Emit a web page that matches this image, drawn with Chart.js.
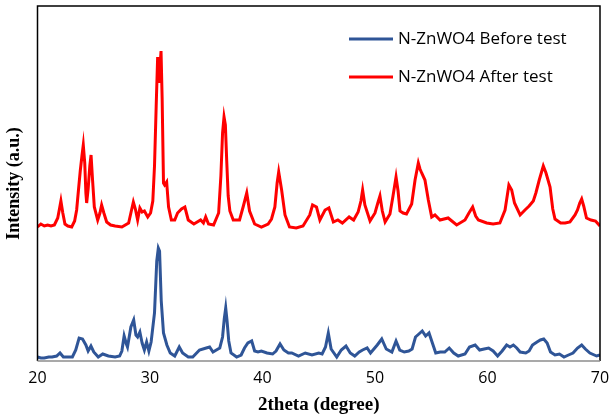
<!DOCTYPE html>
<html>
<head>
<meta charset="utf-8">
<script src="https://cdn.jsdelivr.net/npm/chart.js@4.4.1/dist/chart.umd.min.js"></script>
<style>
  html, body { margin: 0; padding: 0; background: #fff; }
</style>
</head>
<body>
<canvas id="xrd" width="611" height="420"></canvas>
<script>
// 2theta positions and intensities (a.u.)
const beforeTheta = [20.0, 20.3, 20.6, 21.0, 21.3, 21.7, 22.0, 22.3, 22.7, 23.1, 23.4, 23.7, 24.0, 24.3, 24.5, 24.75, 25.0, 25.4, 25.8, 26.3, 26.9, 27.3, 27.5, 27.7, 27.9, 28.0, 28.3, 28.55, 28.75, 28.9, 29.1, 29.3, 29.5, 29.7, 29.9, 30.1, 30.4, 30.6, 30.74, 30.85, 31.0, 31.2, 31.5, 31.8, 32.2, 32.6, 32.9, 33.4, 33.8, 34.4, 35.0, 35.3, 35.6, 35.9, 36.2, 36.45, 36.6, 36.73, 36.85, 37.0, 37.2, 37.7, 38.1, 38.4, 38.7, 39.04, 39.3, 39.6, 39.9, 40.4, 40.9, 41.2, 41.56, 41.9, 42.3, 42.6, 43.2, 43.8, 44.4, 45.0, 45.3, 45.6, 45.85, 46.1, 46.6, 47.0, 47.42, 47.8, 48.2, 48.6, 48.9, 49.3, 49.6, 50.2, 50.6, 51.0, 51.5, 51.87, 52.2, 52.6, 53.0, 53.3, 53.6, 53.9, 54.2, 54.5, 54.8, 55.1, 55.4, 55.8, 56.2, 56.6, 57.0, 57.4, 58.0, 58.4, 58.9, 59.3, 59.7, 60.1, 60.5, 60.9, 61.3, 61.7, 62.0, 62.3, 62.6, 62.9, 63.4, 63.7, 64.0, 64.4, 64.7, 65.0, 65.3, 65.6, 66.0, 66.4, 66.8, 67.2, 67.6, 68.0, 68.37, 68.7, 69.1, 69.7, 70.0];
const beforeIntensity = [4, 3, 3, 4, 4, 5, 8, 4, 4, 4, 11, 23, 22, 16, 10, 15, 9, 4, 7, 5, 4, 5, 10, 25, 17, 14, 34, 41, 26, 24, 29, 18, 11, 19, 10, 19, 48, 100, 113, 110, 60, 28, 16, 8, 5, 14, 8, 4, 4, 11, 13, 14, 9, 11, 13, 24, 42, 53, 40, 20, 8, 4, 6, 13, 18, 20, 10, 9, 10, 8, 7, 10, 17, 11, 8, 8, 5, 8, 6, 8, 7, 14, 28, 12, 4, 11, 15, 8, 5, 9, 11, 13, 8, 16, 22, 12, 9, 20, 11, 9, 10, 12, 24, 27, 30, 25, 28, 18, 8, 9, 9, 13, 8, 5, 7, 14, 16, 11, 12, 13, 10, 5, 10, 16, 14, 16, 13, 9, 8, 10, 16, 19, 21, 22, 18, 9, 6, 7, 4, 6, 8, 13, 16, 12, 8, 5, 6];

const afterTheta = [20.0, 20.3, 20.6, 20.9, 21.2, 21.5, 21.8, 21.95, 22.08, 22.25, 22.44, 22.7, 23.04, 23.3, 23.48, 23.65, 23.8, 23.95, 24.07, 24.2, 24.3, 24.37, 24.5, 24.65, 24.76, 24.9, 25.05, 25.35, 25.55, 25.7, 25.9, 26.15, 26.5, 26.9, 27.5, 28.1, 28.3, 28.52, 28.7, 28.9, 29.1, 29.3, 29.5, 29.8, 30.05, 30.25, 30.4, 30.55, 30.68, 30.8, 30.98, 31.08, 31.2, 31.3, 31.48, 31.65, 31.9, 32.2, 32.45, 32.8, 33.1, 33.4, 33.9, 34.5, 34.75, 34.95, 35.2, 35.65, 36.1, 36.3, 36.45, 36.58, 36.7, 36.82, 36.95, 37.1, 37.4, 37.96, 38.3, 38.6, 38.85, 39.3, 39.9, 40.5, 40.8, 41.1, 41.3, 41.44, 41.7, 42.0, 42.4, 43.0, 43.6, 44.2, 44.45, 44.8, 45.1, 45.56, 45.9, 46.3, 46.7, 47.1, 47.7, 48.1, 48.5, 48.75, 48.9, 49.1, 49.56, 50.0, 50.25, 50.44, 50.65, 50.9, 51.33, 51.6, 51.87, 52.05, 52.22, 52.5, 52.8, 53.26, 53.56, 53.85, 54.0, 54.15, 54.44, 54.74, 55.04, 55.33, 55.78, 56.5, 57.26, 58.0, 58.35, 58.68, 58.95, 59.19, 59.93, 60.5, 61.1, 61.56, 61.9, 62.15, 62.4, 62.9, 63.33, 63.7, 64.07, 64.3, 64.6, 64.96, 65.2, 65.56, 65.8, 66.0, 66.5, 66.9, 67.33, 67.78, 68.0, 68.2, 68.37, 68.55, 68.8, 69.2, 69.6, 70.0];
const afterIntensity = [134, 137, 135, 136, 135, 136, 143, 152, 160, 148, 137, 135, 134, 140, 151, 172, 190, 205, 216, 198, 168, 158, 172, 195, 206, 180, 154, 141, 148, 156, 148, 139, 136, 135, 134, 138, 148, 159, 152, 141, 153, 149, 150, 144, 148, 160, 195, 255, 304, 278, 310, 262, 178, 176, 179, 154, 141, 141, 148, 152, 154, 141, 137, 141, 138, 144, 137, 136, 148, 185, 228, 244, 236, 200, 165, 150, 141, 141, 155, 168, 150, 137, 134, 137, 142, 154, 178, 189, 171, 146, 134, 133, 135, 146, 156, 154, 141, 151, 153, 139, 141, 138, 144, 141, 149, 160, 171, 156, 140, 148, 158, 165, 150, 139, 147, 165, 184, 170, 150, 148, 147, 157, 181, 198, 192, 188, 181, 161, 144, 146, 141, 143, 136, 141, 148, 154, 145, 141, 138, 137, 138, 151, 176, 171, 158, 146, 151, 155, 160, 168, 181, 195, 188, 174, 152, 142, 138, 138, 139, 146, 151, 158, 162, 155, 143, 141, 140, 135];

const xTicks = [20, 30, 40, 50, 60, 70];

const toPoints = (xs, ys) => xs.map((x, i) => ({ x: x, y: ys[i] }));

// box round the plot + legend sitting inside it, top right
const framePlugin = {
    id: 'frame',
    afterDraw(chart) {
        const { ctx, chartArea: a } = chart;
        ctx.save();
        ctx.strokeStyle = '#000';
        ctx.lineWidth = 1.5;
        ctx.beginPath();
        ctx.moveTo(a.left, a.bottom);
        ctx.lineTo(a.left, a.top);
        ctx.lineTo(a.right, a.top);
        ctx.lineTo(a.right, a.bottom);
        ctx.stroke();
        ctx.strokeStyle = '#8c8c8c';
        ctx.beginPath();
        ctx.moveTo(a.left, a.bottom);
        ctx.lineTo(a.right, a.bottom);
        ctx.stroke();

        const rows = [39, 77];
        ctx.font = '17px "Open Sans"';
        ctx.textBaseline = 'middle';
        ctx.fillStyle = '#000';
        chart.data.datasets.forEach((ds, i) => {
            ctx.strokeStyle = ds.borderColor;
            ctx.lineWidth = 3;
            ctx.beginPath();
            ctx.moveTo(349, rows[i]);
            ctx.lineTo(393, rows[i]);
            ctx.stroke();
            ctx.fillText(ds.label, 398, rows[i]);
        });
        ctx.restore();
    }
};

const ctx = document.getElementById('xrd').getContext('2d');
const chart = new Chart(ctx, {
    type: 'line',
    data: {
        datasets: [
            {
                label: 'N-ZnWO4 Before test',
                data: toPoints(beforeTheta, beforeIntensity),
                borderColor: '#2F5597',
                borderWidth: 3,
                pointRadius: 0,
                tension: 0
            },
            {
                label: 'N-ZnWO4 After test',
                data: toPoints(afterTheta, afterIntensity),
                borderColor: '#FF0000',
                borderWidth: 3,
                pointRadius: 0,
                tension: 0
            }
        ]
    },
    options: {
        responsive: false,
        animation: false,
        layout: {
            padding: { top: 6, right: 11, left: 0, bottom: 0 }
        },
        scales: {
            x: {
                type: 'linear',
                min: 20,
                max: 70,
                afterBuildTicks: (scale) => {
                    scale.ticks = xTicks.map(v => ({ value: v }));
                },
                afterFit: (scale) => {
                    scale.height = 59;
                    // let the end labels hang past the plot edge
                    scale.paddingLeft = 0;
                    scale.paddingRight = 0;
                },
                grid: { display: false, drawTicks: false },
                border: { display: false },
                ticks: {
                    padding: 8,
                    color: '#000',
                    font: { family: 'Open Sans', size: 16 }
                },
                title: {
                    display: true,
                    text: '2theta (degree)',
                    color: '#000',
                    padding: { top: 0, bottom: 4 },
                    font: { family: 'Liberation Serif', size: 19, weight: 'bold' }
                }
            },
            y: {
                min: 0,
                max: 355,
                afterFit: (scale) => { scale.width = 37.5; },
                grid: { display: false, drawTicks: false },
                border: { display: false },
                ticks: { display: false },
                title: {
                    display: true,
                    text: 'Intensity (a.u.)',
                    color: '#000',
                    padding: { top: 4, bottom: 0 },
                    font: { family: 'Liberation Serif', size: 18, weight: 'bold' }
                }
            }
        },
        plugins: {
            legend: { display: false },
            tooltip: { enabled: false }
        }
    },
    plugins: [framePlugin]
});
</script>
</body>
</html>
